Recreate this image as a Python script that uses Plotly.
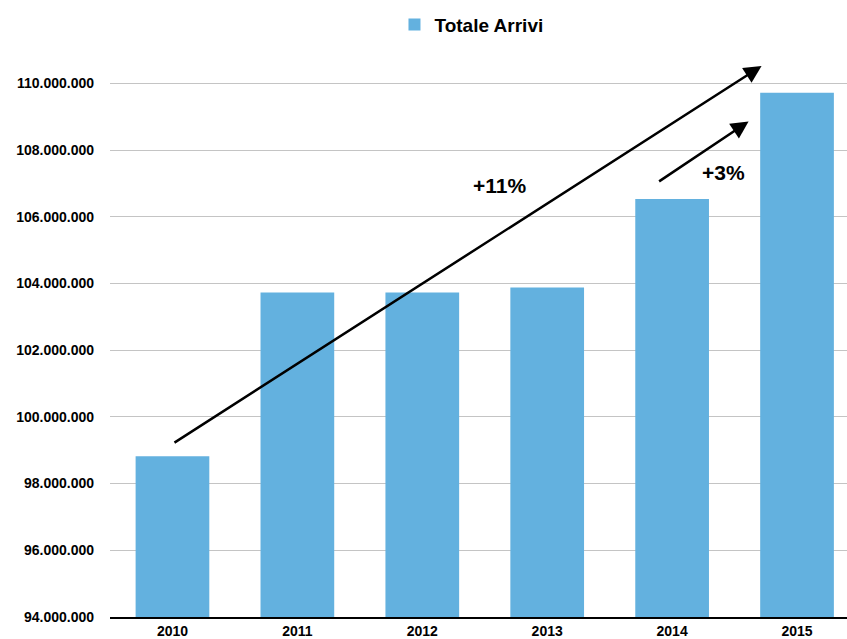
import plotly.graph_objects as go

years = ["2010", "2011", "2012", "2013", "2014", "2015"]
arrivi = [98820000, 103730000, 103730000, 103880000, 106530000, 109720000]
series_name = "Totale Arrivi"
tick_vals = [94000000, 96000000, 98000000, 100000000, 102000000, 104000000, 106000000, 108000000, 110000000]

font_fam = "Liberation Sans, Arial, sans-serif"

fig = go.Figure()
fig.add_trace(go.Bar(
    x=list(range(len(years))), y=arrivi, name=series_name,
    marker=dict(color="#63b1df", line=dict(width=0)),
    width=0.59, showlegend=True,
))

fig.update_layout(
    width=847, height=639,
    margin=dict(l=110, r=0, t=50, b=22, autoexpand=False),
    plot_bgcolor="white", paper_bgcolor="white",
    separators=",.",
    font=dict(family=font_fam, color="#000000"),
    showlegend=True,
    legend=dict(orientation="h", x=0.386, xanchor="left", y=1.011, yanchor="bottom",
                font=dict(size=19, family=font_fam, color="#000", weight="bold"),
                itemwidth=30),
)
fig.update_xaxes(
    range=[-0.5, 5.4], tickmode="array", tickvals=list(range(len(years))), ticktext=years,
    tickfont=dict(size=14, family=font_fam, color="#000", weight="bold"), ticks="",
    showgrid=False, showline=True, linecolor="#000", linewidth=2, zeroline=False,
    ticklabelstandoff=0,
)
fig.update_yaxes(
    range=[94000000, 111000000], tickmode="array", tickvals=tick_vals,
    tickformat=",.0f", tickfont=dict(size=14, family=font_fam, color="#000", weight="bold"),
    showgrid=True, gridcolor="#c4c4c4", gridwidth=1, zeroline=False, showline=False,
    ticks="", ticklabelstandoff=15,
)

fig.add_annotation(x=4.716, y=110520000, ax=0.004, ay=99200000, xref="x", yref="y",
                   axref="x", ayref="y", showarrow=True, arrowhead=2, arrowsize=1.4,
                   arrowwidth=2.5, arrowcolor="#000", text="")
fig.add_annotation(x=4.612, y=108860000, ax=3.884, ay=107030000, xref="x", yref="y",
                   axref="x", ayref="y", showarrow=True, arrowhead=2, arrowsize=1.4,
                   arrowwidth=2.5, arrowcolor="#000", text="")
fig.add_annotation(x=2.62, y=106940000, text="+11%", showarrow=False,
                   font=dict(size=21, family=font_fam, color="#000", weight="bold"))
fig.add_annotation(x=4.41, y=107330000, text="+3%", showarrow=False,
                   font=dict(size=21, family=font_fam, color="#000", weight="bold"))

fig.write_html("out.html", config={"displayModeBar": False},
               post_script="document.body.style.margin='0';")
